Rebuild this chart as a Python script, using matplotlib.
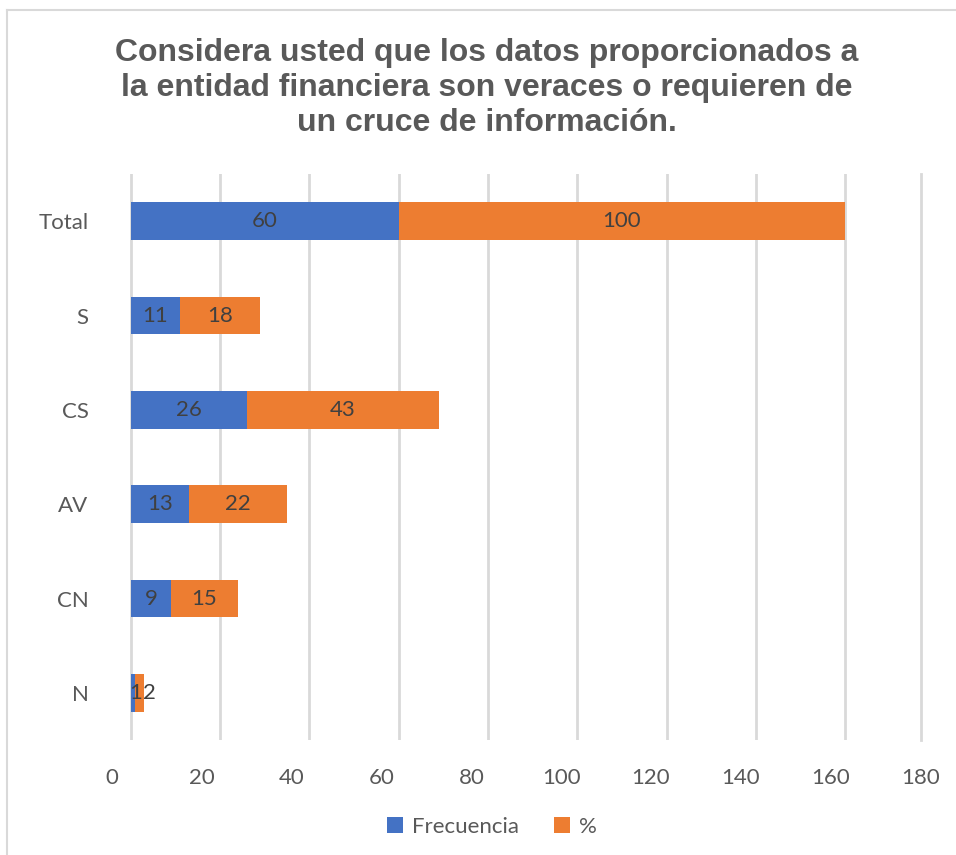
import matplotlib
matplotlib.use('Agg')
import matplotlib.pyplot as plt
import numpy as np
from matplotlib.lines import Line2D

# survey answers, top row first
categorias = ['Total', 'S', 'CS', 'AV', 'CN', 'N']
frecuencia = [60, 11, 26, 13, 9, 1]
porcentaje = [100, 18, 43, 22, 15, 2]
ticks_x = [0, 20, 40, 60, 80, 100, 120, 140, 160, 180]

titulo = ('Considera usted que los datos proporcionados a\n'
          'la entidad financiera son veraces o requieren de\n'
          'un cruce de información.')

azul = '#4472C4'
naranja = '#ED7D31'
gris_grid = '#D9D9D9'
gris_txt = '#595959'
gris_val = '#404040'

plt.rcParams['font.family'] = ['Lato', 'DejaVu Sans']

fig = plt.figure(figsize=(9.56, 8.55), dpi=100)
ax = fig.add_axes([112 / 956, 115 / 855, (921 - 112) / 956, (740 - 174) / 855])

y_pos = np.arange(len(categorias))
b1 = ax.barh(y_pos, frecuencia, height=0.4, color=azul, label='Frecuencia')
b2 = ax.barh(y_pos, porcentaje, left=frecuencia, height=0.4, color=naranja, label='%')

# the last row is too thin for centred labels, so it gets its own
n = len(categorias) - 1
ax.bar_label(b1, labels=[str(v) for v in frecuencia[:n]] + [''],
             label_type='center', fontsize=16, color=gris_val)
ax.bar_label(b2, labels=[str(v) for v in porcentaje[:n]] + [''],
             label_type='center', fontsize=16, color=gris_val)
ax.annotate(str(frecuencia[n]), (frecuencia[n] / 2, n), xytext=(3, 0),
            textcoords='offset pixels', ha='center', va='center',
            fontsize=16, color=gris_val)
ax.annotate(str(porcentaje[n]), (frecuencia[n] + porcentaje[n] / 2, n), xytext=(10, 0),
            textcoords='offset pixels', ha='center', va='center',
            fontsize=16, color=gris_val)

ax.set_ylim(len(categorias) - 0.5, -0.5)
ax.set_yticks(y_pos)
ax.set_yticklabels(categorias, fontsize=16, color=gris_txt)
ax.tick_params(axis='y', length=0, pad=17)

ax.set_xlim(-4.2, 177)
ax.set_xticks(ticks_x[:-1])
ax.tick_params(axis='x', length=0, labelbottom=False)
ax.grid(axis='x', color=gris_grid, linewidth=2)
ax.set_axisbelow(True)
for s in ('top', 'bottom', 'left'):
    ax.spines[s].set_visible(False)
ax.spines['right'].set_color(gris_grid)
ax.spines['right'].set_linewidth(2)

# value labels on a separate bottom axis, sitting a little left of the grid
sec = ax.secondary_xaxis('bottom',
                         functions=(lambda d: (d + 4.14) / 1.0054,
                                    lambda v: v * 1.0054 - 4.14))
sec.set_xticks(ticks_x)
sec.tick_params(length=0, labelsize=16, labelcolor=gris_txt, pad=20)
sec.spines['bottom'].set_visible(False)

fig.text(487 / 956, 1 - 88 / 855, titulo, ha='center', va='center',
         fontsize=23, fontweight='bold', color=gris_txt,
         family='Liberation Sans', linespacing=1.22)

fig.legend(handles=[b1, b2], loc='center', bbox_to_anchor=(492 / 956, 1 - 827 / 855),
           ncol=2, frameon=False, fontsize=16, labelcolor=gris_txt,
           handlelength=0.7, handleheight=0.7, handletextpad=0.4, columnspacing=1.6)

# chart frame (only the top and left edges are visible)
fig.add_artist(Line2D([7 / 956, 7 / 956], [0, 1 - 10 / 855], color=gris_grid, linewidth=1.5))
fig.add_artist(Line2D([7 / 956, 1], [1 - 10 / 855, 1 - 10 / 855], color=gris_grid, linewidth=1.5))

fig.savefig('out.png', dpi=100, facecolor='white')
plt.close(fig)
